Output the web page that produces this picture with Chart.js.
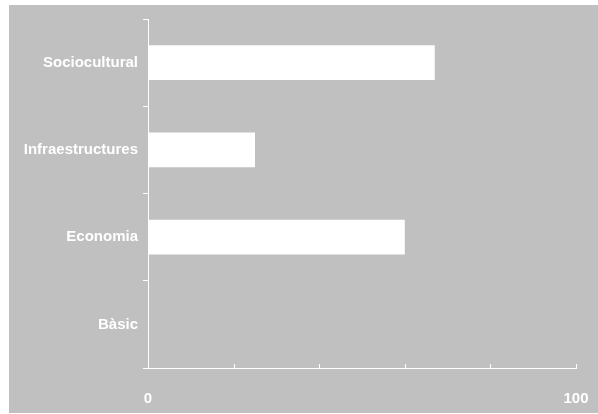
<!DOCTYPE html>
<html>
<head>
<meta charset="utf-8">
<script src="https://cdn.jsdelivr.net/npm/chart.js@4"></script>
<style>
    html, body { margin: 0; padding: 0; background: #ffffff; }
    #wrap {
        position: absolute;
        left: 9px;
        top: 5px;
        width: 589px;
        height: 408px;
        background: #c0c0c0;
    }
</style>
</head>
<body>
<div id="wrap"><canvas id="chart" width="589" height="408"></canvas></div>
<script>
const categories = ['Sociocultural', 'Infraestructures', 'Economia', 'Bàsic'];
const values = [67, 25, 60, 0];
const xTicksShown = [0, 100];

const labelFont = { family: "'Liberation Sans', Arial, sans-serif", size: 15, weight: 'bold' };

// x axis tick marks point up into the plot, so draw them by hand
const innerTicks = {
    id: 'innerTicks',
    afterDraw(chart) {
        const ctx = chart.ctx;
        const x = chart.scales.x;
        ctx.save();
        ctx.strokeStyle = '#ffffff';
        ctx.lineWidth = 1;
        x.ticks.forEach(t => {
            const px = Math.round(x.getPixelForValue(t.value)) + 0.5;
            ctx.beginPath();
            ctx.moveTo(px, x.top);
            ctx.lineTo(px, x.top - 4);
            ctx.stroke();
        });
        ctx.restore();
    }
};

new Chart(document.getElementById('chart').getContext('2d'), {
    type: 'bar',
    data: {
        labels: categories,
        datasets: [{
            data: values,
            backgroundColor: '#ffffff',
            borderWidth: 0,
            barPercentage: 0.4,
            categoryPercentage: 1
        }]
    },
    options: {
        indexAxis: 'y',
        responsive: false,
        animation: false,
        layout: { padding: { top: 11, right: 22, left: 0, bottom: 0 } },
        plugins: {
            legend: { display: false },
            tooltip: { enabled: false }
        },
        scales: {
            x: {
                min: 0,
                max: 100,
                afterFit(scale) {
                    scale.height = 45;
                    scale.paddingLeft = 0;
                    scale.paddingRight = 0;
                },
                ticks: {
                    stepSize: 20,
                    color: '#ffffff',
                    font: labelFont,
                    padding: 14,
                    maxRotation: 0,
                    autoSkip: false,
                    callback: v => xTicksShown.includes(v) ? String(v) : ''
                },
                grid: { display: false },
                border: { display: true, color: '#ffffff', width: 1 }
            },
            y: {
                afterFit(scale) { scale.width = 139; },
                ticks: {
                    color: '#ffffff',
                    font: labelFont,
                    padding: 5
                },
                grid: {
                    display: true,
                    offset: true,
                    drawOnChartArea: false,
                    drawTicks: true,
                    tickLength: 5,
                    color: '#ffffff'
                },
                border: { display: true, color: '#ffffff', width: 1 }
            }
        }
    },
    plugins: [innerTicks]
});
</script>
</body>
</html>
